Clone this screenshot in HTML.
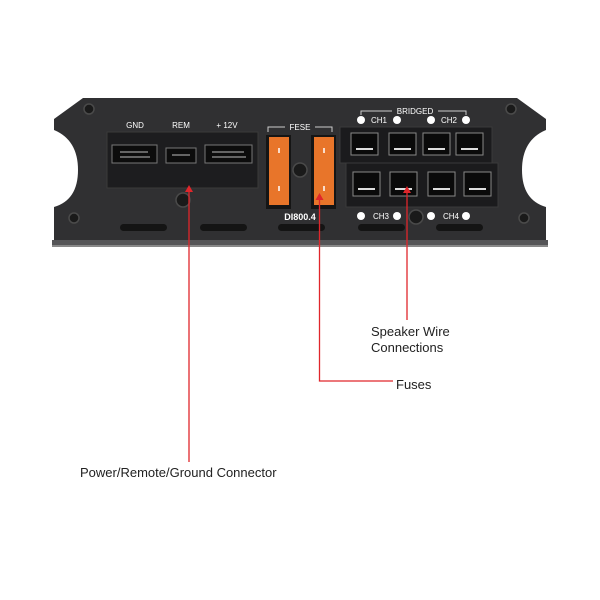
<!DOCTYPE html>
<html><head><style>
html,body{margin:0;padding:0;background:#fff;}
svg{display:block;}
text{font-family:"Liberation Sans",sans-serif;}
</style></head><body>
<svg width="600" height="600" viewBox="0 0 600 600" xmlns="http://www.w3.org/2000/svg">
<rect width="600" height="600" fill="#fff"/>
<path d="M83,98 L517,98 L546,119 L546,130 Q522,140 522,170 Q522,200 546,207 L546,242 L54,242 L54,207 Q78,200 78,170 Q78,140 54,130 L54,119 Z" fill="#303032"/>
<rect x="52" y="240" width="496" height="7" fill="#555557"/>
<rect x="52" y="245" width="496" height="2" fill="#888"/>
<g fill="#1a1a1a" stroke="#4a4a4a" stroke-width="1.5">
<circle cx="89" cy="109" r="5"/><circle cx="511" cy="109" r="5"/>
<circle cx="74" cy="218" r="5"/><circle cx="524" cy="218" r="5"/>
<circle cx="183" cy="200" r="7"/><circle cx="300" cy="170" r="7"/><circle cx="416" cy="217" r="7"/>
</g>
<g fill="#fff" font-size="8" text-anchor="middle">
<text x="135" y="128">GND</text><text x="181" y="128">REM</text><text x="227" y="128">+ 12V</text>
<text x="300" y="130">FESE</text>
<text x="415" y="114">BRIDGED</text>
<text x="379" y="123">CH1</text><text x="449" y="123">CH2</text>
<text x="381" y="219">CH3</text><text x="451" y="219">CH4</text>
<text x="300" y="220" font-size="9" font-weight="bold">DI800.4</text>
</g>
<g fill="#fff"><circle cx="361" cy="120" r="4"/><circle cx="397" cy="120" r="4"/><circle cx="431" cy="120" r="4"/><circle cx="466" cy="120" r="4"/>
<circle cx="361" cy="216" r="4"/><circle cx="397" cy="216" r="4"/><circle cx="431" cy="216" r="4"/><circle cx="466" cy="216" r="4"/></g>
<path d="M268,132 V127 H285 M315,127 H332 V132" stroke="#ccc" fill="none"/>
<path d="M361,115 V111 H392 M438,111 H466 V115" stroke="#ccc" fill="none"/>
<rect x="107" y="132" width="151" height="56" fill="#1d1d1f" stroke="#3a3a3a"/>
<rect x="112" y="145" width="45" height="18" fill="#0c0c0c" stroke="#777"/>
<rect x="166" y="148" width="30" height="15" fill="#0c0c0c" stroke="#777"/>
<rect x="205" y="145" width="47" height="18" fill="#0c0c0c" stroke="#777"/>
<g stroke="#bbb" stroke-width="1"><line x1="120" y1="152" x2="148" y2="152"/><line x1="120" y1="157" x2="150" y2="157"/><line x1="212" y1="152" x2="244" y2="152"/><line x1="212" y1="157" x2="246" y2="157"/><line x1="172" y1="155" x2="190" y2="155"/></g>
<rect x="266" y="135" width="25" height="74" fill="#151515"/>
<rect x="311" y="135" width="25" height="74" fill="#151515"/>
<rect x="269" y="137" width="20" height="68" fill="#e8752a"/>
<rect x="314" y="137" width="20" height="68" fill="#e8752a"/>
<g stroke="#fff" stroke-width="1.5"><line x1="279" y1="148" x2="279" y2="153"/><line x1="279" y1="186" x2="279" y2="191"/><line x1="324" y1="148" x2="324" y2="153"/><line x1="324" y1="186" x2="324" y2="191"/></g>
<rect x="340" y="127" width="152" height="36" fill="#1b1b1d" stroke="#3a3a3a"/>
<rect x="346" y="163" width="152" height="44" fill="#1b1b1d" stroke="#3a3a3a"/>
<g fill="#0a0a0a" stroke="#888">
<rect x="351" y="133" width="27" height="22"/><rect x="389" y="133" width="27" height="22"/><rect x="423" y="133" width="27" height="22"/><rect x="456" y="133" width="27" height="22"/>
<rect x="353" y="172" width="27" height="24"/><rect x="390" y="172" width="27" height="24"/><rect x="428" y="172" width="27" height="24"/><rect x="464" y="172" width="27" height="24"/>
</g>
<g fill="#ddd">
<rect x="356" y="148" width="17" height="2"/><rect x="394" y="148" width="17" height="2"/><rect x="428" y="148" width="17" height="2"/><rect x="461" y="148" width="17" height="2"/>
<rect x="358" y="188" width="17" height="2"/><rect x="395" y="188" width="17" height="2"/><rect x="433" y="188" width="17" height="2"/><rect x="469" y="188" width="17" height="2"/>
</g>
<g fill="#141414">
<rect x="120" y="224" width="47" height="7" rx="3.5"/><rect x="200" y="224" width="47" height="7" rx="3.5"/><rect x="278" y="224" width="47" height="7" rx="3.5"/><rect x="358" y="224" width="47" height="7" rx="3.5"/><rect x="436" y="224" width="47" height="7" rx="3.5"/>
</g>
<g stroke="#e0262b" stroke-width="1.3" fill="none">
<line x1="189" y1="190" x2="189" y2="462"/>
<path d="M319.5,196 V381 H393"/>
<line x1="407" y1="190" x2="407" y2="320"/>
</g>
<g fill="#e0262b"><path d="M189,185 l-4,7 h8z"/><path d="M319.5,193 l-4,7 h8z"/><path d="M407,186 l-4,7 h8z"/></g>
<g fill="#222" font-size="13">
<text x="371" y="336">Speaker Wire</text>
<text x="371" y="352">Connections</text>
<text x="396" y="389">Fuses</text>
<text x="80" y="477">Power/Remote/Ground Connector</text>
</g>
</svg>
</body></html>
